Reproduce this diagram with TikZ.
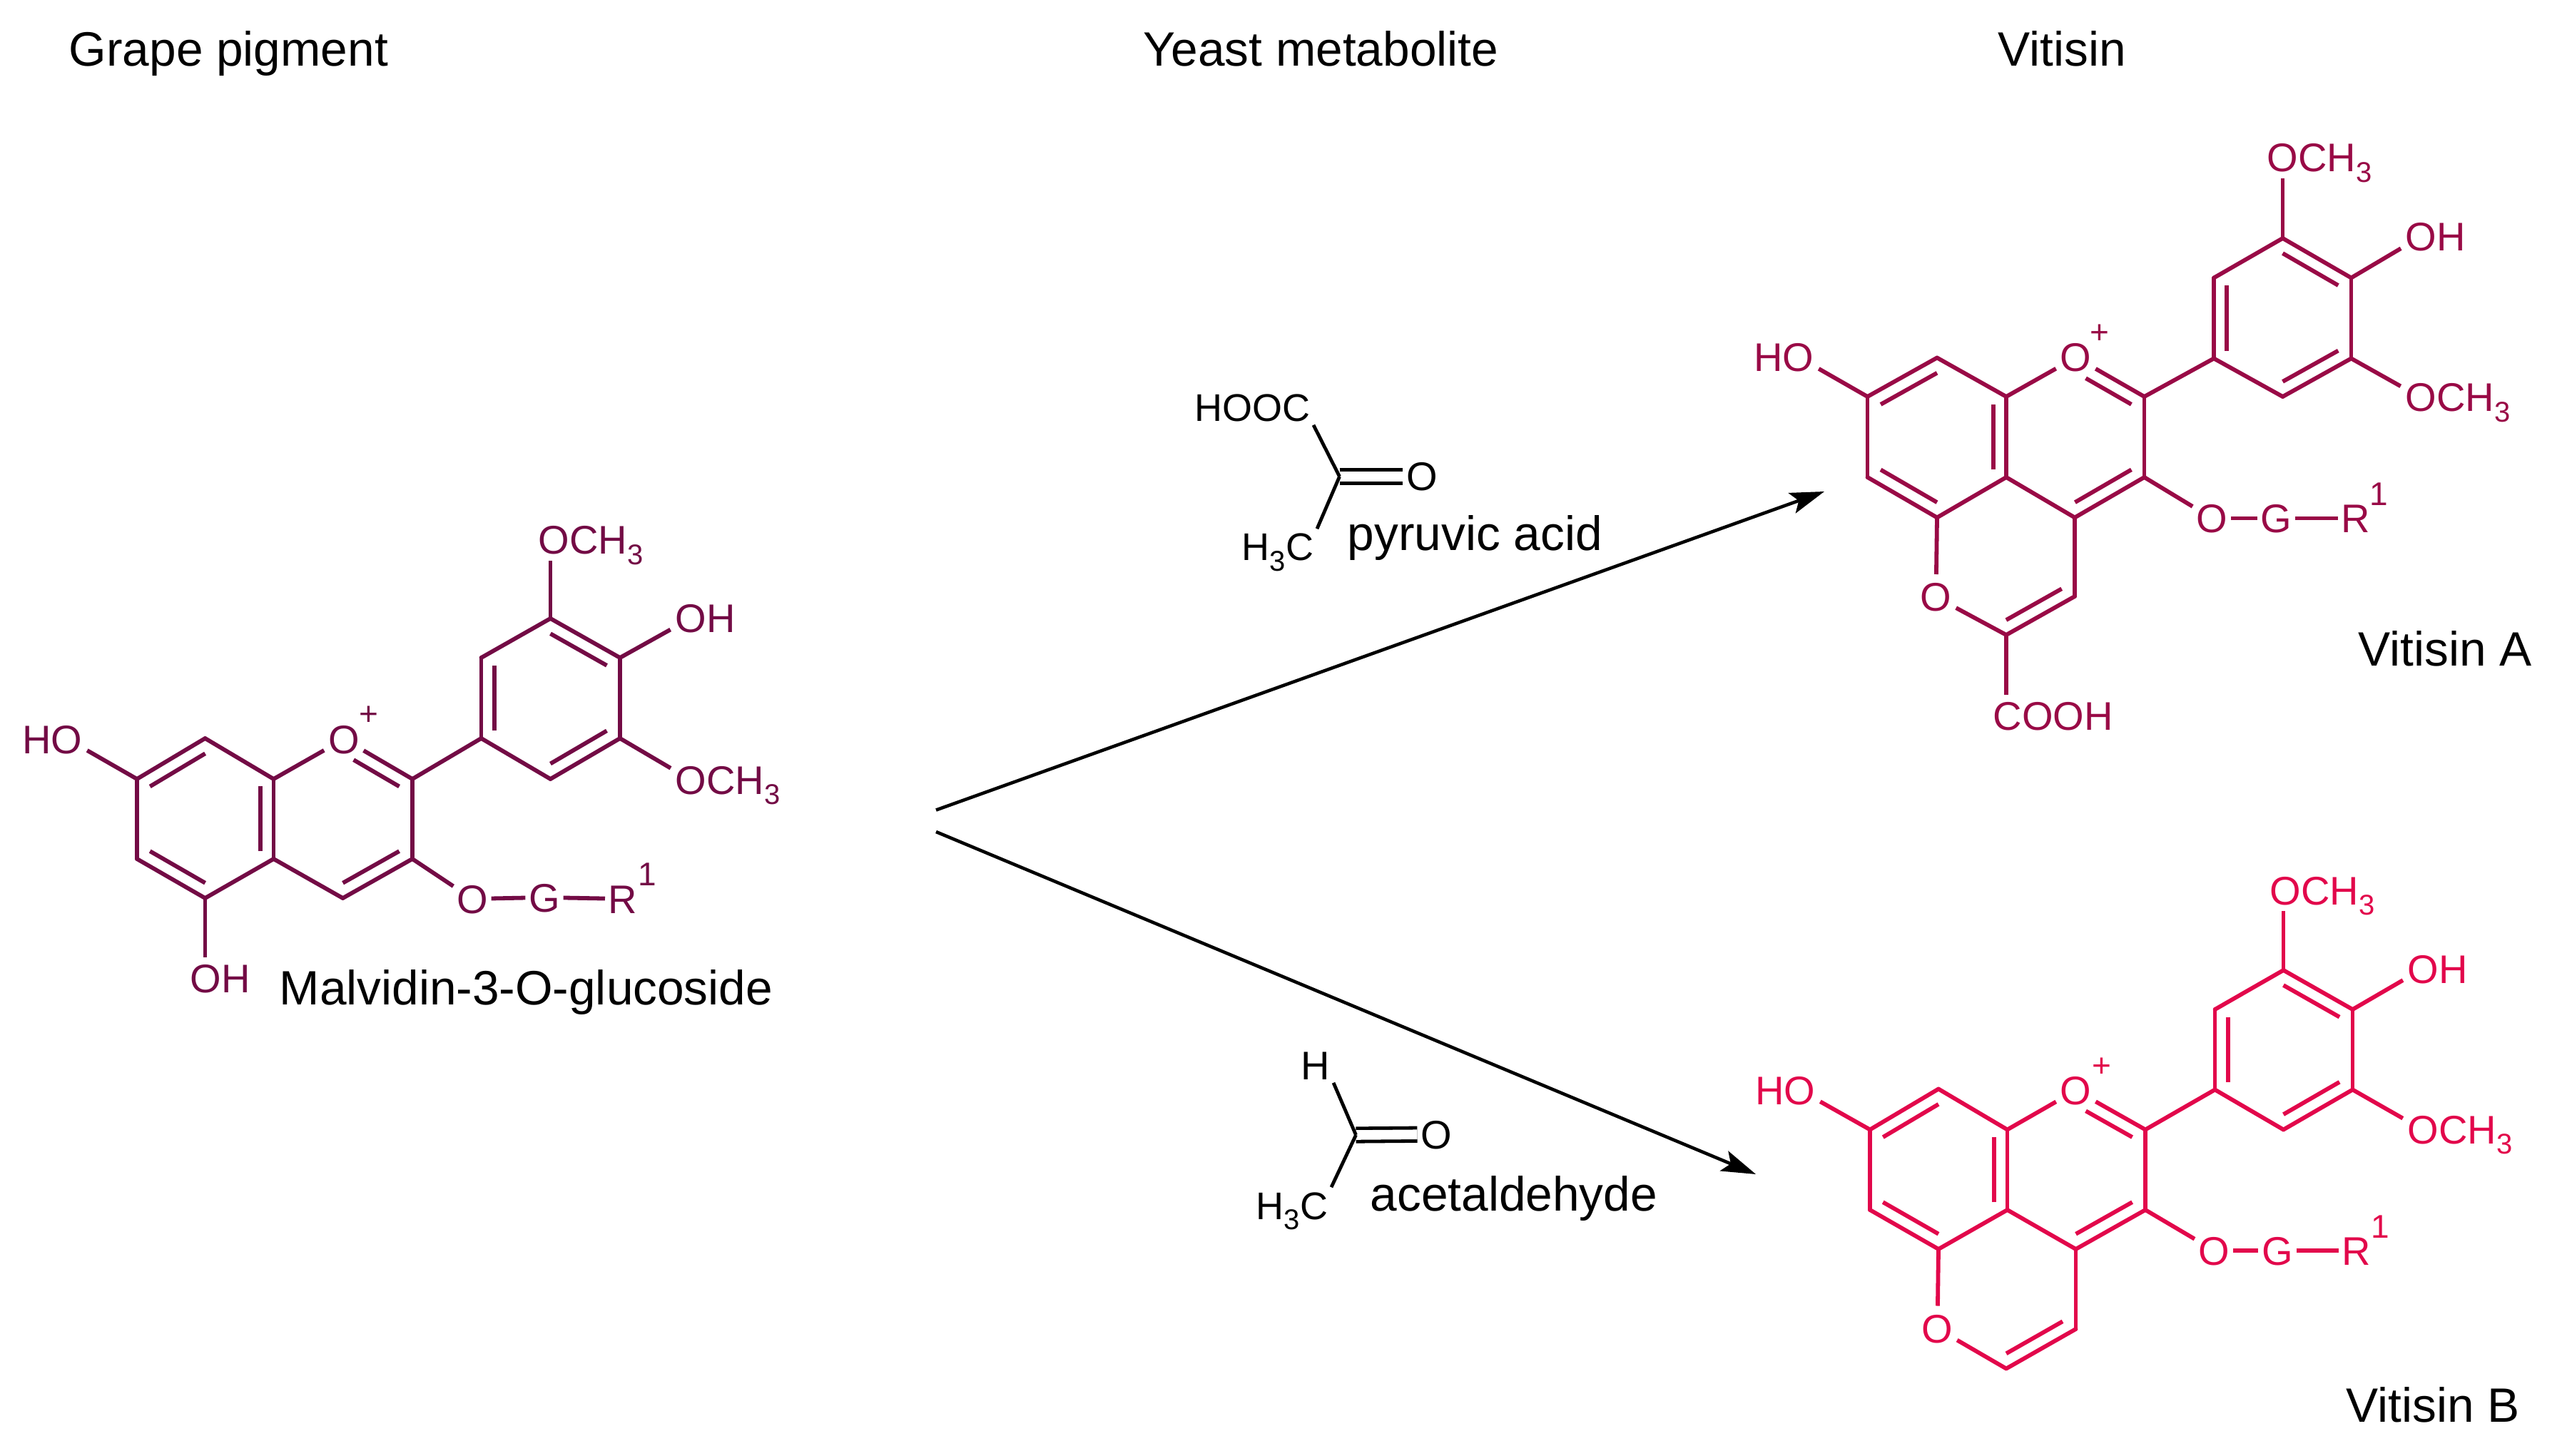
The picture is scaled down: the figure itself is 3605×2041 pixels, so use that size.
\documentclass[tikz,border=0pt]{standalone}
\usepackage{fontspec}
\setmainfont{Liberation Sans}
\usetikzlibrary{calc,arrows.meta}
\definecolor{malvCol}{HTML}{730B45}
\definecolor{vitACol}{HTML}{990A46}
\definecolor{vitBCol}{HTML}{E2074B}
\newcommand{\lowthree}{\raisebox{-3.6pt}{\fontsize{10}{10}\selectfont 3}}
\tikzset{
  bond/.style={line width=1.45pt},
  thinbond/.style={line width=1.2pt},
  react/.style={line width=1.15pt,-{Stealth[length=12pt,width=7.5pt,inset=2.5pt]}},
  atom/.style={inner sep=1pt,font=\fontsize{14}{14}\selectfont,text height=10pt,text depth=0pt},
  small/.style={inner sep=1pt,font=\fontsize{13.5}{14}\selectfont,text height=10pt,text depth=0pt},
  ringO/.style={circle,inner sep=0pt,minimum size=15.6pt,font=\fontsize{14}{14}\selectfont,text height=10pt,text depth=0pt},
  charge/.style={inner sep=0pt,font=\fontsize{11.5}{12}\selectfont},
  title/.style={inner sep=0pt,anchor=base west,font=\fontsize{16.9}{17}\selectfont}
}
\begin{document}
\begin{tikzpicture}[x=0.25pt,y=-0.25pt]
  \useasboundingbox (0,0) rectangle (3605,2041);
  % headings and names
  \node[title] (hGrape) at (96,93) {Grape pigment};
  \node[title] (hYeast) at (1602,93) {Yeast metabolite};
  \node[title] (hVit) at (2800,93) {Vitisin};
  \node[title] (nMalv) at (391,1408) {Malvidin-3-O-glucoside};
  \node[title] (nVitA) at (3305,933) {Vitisin A};
  \node[title] (nVitB) at (3288,1993) {Vitisin B};
  \node[title] (nPyr) at (1888,772) {pyruvic acid};
  \node[title] (nAce) at (1920,1697) {acetaldehyde};
  % malvidin
  \begin{scope}[malvCol]
    \foreach \n/\x/\y in {1/287.5/1035,2/192/1092,3/192/1204,4/287.5/1259,5/383.5/1204,6/383.5/1092,
      7/578/1092,8/578/1204,9/480.5/1259,10/674.5/1035,11/674.5/922,12/771.5/867,13/869/922,14/869/1035,15/771.5/1092,
      A/288/1147,C/481/1147,B/771.5/979}
      \coordinate (m\n) at (\x,\y);
    \node[ringO] (mO) at (482,1036) {O};
    \node[charge] (mPlus) at (517,1003) {+};
    \node[atom,anchor=east] (mHO) at (120,1036) {HO};
    \node[atom,anchor=west] (mOM1) at (750,757) {OCH\lowthree};
    \node[atom,anchor=west] (mOH) at (942,867) {OH};
    \node[atom,anchor=west] (mOM2) at (942,1093) {OCH\lowthree};
    \node[atom,anchor=west] (mOHb) at (262,1371) {OH};
    \node[atom] (mOG) at (662,1260) {O};
    \node[atom] (mG) at (763,1258) {G};
    \node[atom] (mR) at (873,1260) {R};
    \node[charge] (mOne) at (907,1226) {1};
  \end{scope}
  % vitisin A
  \begin{scope}[vitACol]
    \foreach \n/\x/\y in {1/2715/501.5,2/2617.5/556,3/2617.5/669,4/2715/725.5,5/2812/669,6/2812/556,
      7/3005.5/556,8/3005.5/669,9/2908/725.5,10/3103/502.5,11/3103/389.5,12/3199.5/334,13/3295.5/389.5,14/3295.5/502.5,15/3199.5/556,
      16/2812/890,17/2908/836,A/2715/613.5,C/2910/613,B/3199.5/445,P/2811.5/780}
      \coordinate (a\n) at (\x,\y);
    \node[ringO] (aO) at (2909.5,501) {O};
    \node[ringO] (aOp) at (2713.5,837) {O};
    \node[charge] (aPlus) at (2943,468) {+};
    \node[atom,anchor=east] (aHO) at (2547,501) {HO};
    \node[atom,anchor=west] (aOM1) at (3173,221) {OCH\lowthree};
    \node[atom,anchor=west] (aOH) at (3367,332) {OH};
    \node[atom,anchor=west] (aOM2) at (3367,557) {OCH\lowthree};
    \node[atom,anchor=west] (aCOOH) at (2789,1003) {COOH};
    \node[atom] (aOG) at (3100.5,726.5) {O};
    \node[atom] (aG) at (3190.5,726.5) {G};
    \node[atom] (aR) at (3301.5,726.5) {R};
    \node[charge] (aOne) at (3334.5,693) {1};
  \end{scope}
  % vitisin B
  \begin{scope}[vitBCol]
    \foreach \n/\x/\y in {1/2717/1526.5,2/2621/1583.5,3/2621/1696,4/2717/1751,5/2813.5/1696,6/2813.5/1583.5,
      7/3007/1583.5,8/3007/1696,9/2909.5/1751,10/3104.5/1527.5,11/3104.5/1415,12/3200.5/1360,13/3297.5/1415,14/3297.5/1527.5,15/3200.5/1583.5,
      16/2812/1918.5,17/2909.5/1863,A/2717/1639,C/2910/1639,B/3200.5/1471,P/2812/1807}
      \coordinate (b\n) at (\x,\y);
    \node[ringO] (bO) at (2909.5,1528.5) {O};
    \node[ringO] (bOp) at (2715.5,1862.5) {O};
    \node[charge] (bPlus) at (2945.5,1496) {+};
    \node[atom,anchor=east] (bHO) at (2549,1528.5) {HO};
    \node[atom,anchor=west] (bOM1) at (3177,1248) {OCH\lowthree};
    \node[atom,anchor=west] (bOH) at (3370,1358) {OH};
    \node[atom,anchor=west] (bOM2) at (3370,1583.5) {OCH\lowthree};
    \node[atom] (bOG) at (3103.5,1753) {O};
    \node[atom] (bG) at (3192,1753) {G};
    \node[atom] (bR) at (3303,1753) {R};
    \node[charge] (bOne) at (3336.5,1720) {1};
  \end{scope}
  % bonds that the three pigments share
  \foreach \mol/\col in {m/malvCol,a/vitACol,b/vitBCol} {
    \foreach \u/\v in {1/2,2/3,3/4,4/5,5/6,6/1,7/8,8/9,9/5,7/10,10/11,11/12,12/13,13/14,14/15,15/10}
      \draw[bond,\col,line cap=round] (\mol\u) -- (\mol\v);
    \foreach \u/\v/\w in {1/2/A,3/4/A,5/6/A,8/9/C,10/11/B,12/13/B,14/15/B}
      \draw[bond,\col] ($(\mol\w)!.81!(\mol\u)$) -- ($(\mol\w)!.81!(\mol\v)$);
    \draw[bond,\col] (\mol6) -- (\mol O);
    \draw[bond,\col] (\mol7) -- (\mol O);
    \draw[bond,\col,shorten <=4pt] ($(\mol C)!.81!(\mol O.center)$) -- ($(\mol C)!.81!(\mol7)$);
    \draw[bond,\col,shorten >=8pt] (\mol2) -- ([xshift=-6.4pt]\mol HO.east);
    \draw[bond,\col,shorten >=8pt] (\mol13) -- ([xshift=6.4pt]\mol OH.west);
    \draw[bond,\col,shorten >=8pt] (\mol14) -- ([xshift=6.4pt]\mol OM2.west);
    \draw[bond,\col,shorten >=1pt] (\mol12) -- (\mol12 |- \mol OM1.south);
    \draw[bond,\col,shorten >=8pt] (\mol8) -- (\mol OG.center);
    \draw[bond,\col] (\mol OG) -- (\mol G);
    \draw[bond,\col] (\mol G) -- (\mol R);
  }
  % the rest of each pigment
  \draw[bond,malvCol,shorten >=1pt] (m4) -- (m4 |- mOHb.north);
  \foreach \mol/\col in {a/vitACol,b/vitBCol} {
    \draw[bond,\col] (\mol4) -- (\mol Op);
    \draw[bond,\col] (\mol16) -- (\mol Op);
    \draw[bond,\col,line cap=round] (\mol16) -- (\mol17);
    \draw[bond,\col,line cap=round] (\mol17) -- (\mol9);
    \draw[bond,\col] ($(\mol P)!.81!(\mol16)$) -- ($(\mol P)!.81!(\mol17)$);
  }
  \draw[bond,vitACol,shorten >=1pt] (a16) -- (a16 |- aCOOH.north);
  % pyruvic acid
  \coordinate (pC) at (1877.5,668);
  \node[atom] (pO) at (1993,668) {O};
  \node[small,anchor=east] (pHOOC) at (1841,571) {HOOC};
  \node[small,anchor=east] (pCH) at (1846,766) {H\lowthree C};
  \draw[thinbond,double,double distance=3.4pt] (pC) -- (pO);
  \draw[thinbond] (pHOOC.south east) -- (pC);
  \draw[thinbond] (pCH.north east) -- (pC);
  % acetaldehyde
  \coordinate (cC) at (1900.5,1591);
  \node[atom] (cO) at (2013,1590) {O};
  \node[atom] (cH) at (1844,1493) {H};
  \node[small,anchor=east] (cCH) at (1866,1689) {H\lowthree C};
  \draw[thinbond,double,double distance=3.4pt] (cC) -- (cO);
  \draw[thinbond] (cH.south east) -- (cC);
  \draw[thinbond] (cCH.north east) -- (cC);
  % reaction arrows
  \coordinate (startA) at (1312,1135.5);
  \coordinate (tipA) at (2557,689);
  \coordinate (startB) at (1312,1166);
  \coordinate (tipB) at (2461,1646);
  \draw[react] (startA) -- (tipA);
  \draw[react] (startB) -- (tipB);
\end{tikzpicture}
\end{document}
